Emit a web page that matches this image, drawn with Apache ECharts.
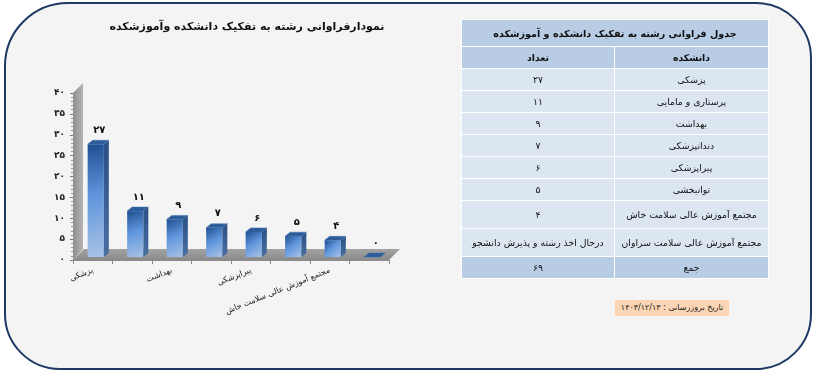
<!DOCTYPE html>
<html lang="fa">
<head>
<meta charset="utf-8">
<script src="https://cdn.jsdelivr.net/npm/echarts@6/dist/echarts.min.js"></script>
<style>
  html, body { margin: 0; padding: 0; background: #ffffff; }
  body { width: 816px; height: 376px; position: relative; overflow: hidden; font-family: "DejaVu Sans", sans-serif; }
  .frame {
    position: absolute; left: 4px; top: 2px; width: 808px; height: 368px;
    box-sizing: border-box; border: 2px solid #1f3864;
    border-radius: 64px 56px 56px 56px; background: #f4f4f4;
  }
  #chart { position: absolute; left: 0; top: 0; width: 816px; height: 376px; }
  table.stats {
    position: absolute; left: 461px; top: 19px; width: 308px;
    border-collapse: collapse; direction: rtl; font-size: 9.3px; color: #111;
  }
  table.stats td { border: 1px solid #ffffff; text-align: center; padding: 0; }
  table.stats tr.cap td { background: #b8cce4; font-weight: bold; font-size: 9.6px; height: 26px; }
  table.stats tr.head td { background: #b8cce4; font-weight: bold; height: 21px; }
  table.stats tr.row td { background: #dce6f1; height: 21px; }
  table.stats tr.row.tall td { height: 27px; }
  table.stats tr.sum td { background: #b8cce4; height: 21px; }
  .stamp {
    position: absolute; left: 615px; top: 300px; width: 114px; height: 16px;
    background: #fcd5b4; direction: rtl; font-size: 8px; line-height: 16px;
    text-align: center; color: #222;
  }
</style>
</head>
<body>
<div class="frame"></div>
<div id="chart"></div>
<table class="stats" id="stats"></table>
<div class="stamp" id="stamp"></div>
<script>
const chartTitle = 'نمودارفراوانی رشته به تفکیک دانشکده وآموزشکده';
const tableTitle = 'جدول فراوانی رشته به تفکیک دانشکده و آموزشکده';
const tableHead = ['دانشکده', 'تعداد'];
const faculties = ['پزشکی', 'پرستاری و مامایی', 'بهداشت', 'دندانپزشکی', 'پیراپزشکی', 'توانبخشی', 'مجتمع آموزش عالی سلامت خاش', 'مجتمع آموزش عالی سلامت سراوان'];
const counts = [27, 11, 9, 7, 6, 5, 4, 0];
const countNotes = ['', '', '', '', '', '', '', 'درحال اخذ رشته و پذیرش دانشجو'];
const totalLabel = 'جمع';
const totalCount = 69;
const updateDate = 'تاریخ بروزرسانی : ۱۴۰۳/۱۲/۱۳';
const yMax = 40;
const yStep = 5;

function fa(n) {
  return String(n).replace(/\d/g, d => '۰۱۲۳۴۵۶۷۸۹'[d]);
}

// table on the right
let rows = '<tr class="cap"><td colspan="2">' + tableTitle + '</td></tr>';
rows += '<tr class="head"><td style="width:153px">' + tableHead[0] + '</td><td>' + tableHead[1] + '</td></tr>';
faculties.forEach((f, i) => {
  const tall = f.length > 20 ? ' tall' : '';
  rows += '<tr class="row' + tall + '"><td>' + f + '</td><td>' + (countNotes[i] || fa(counts[i])) + '</td></tr>';
});
rows += '<tr class="sum"><td>' + totalLabel + '</td><td>' + fa(totalCount) + '</td></tr>';
document.getElementById('stats').innerHTML = rows;
document.getElementById('stamp').textContent = updateDate;

const chart = echarts.init(document.getElementById('chart'));

const frontFill = new echarts.graphic.LinearGradient(0, 0, 1, 1, [
  { offset: 0, color: '#1f4f91' },
  { offset: 0.45, color: '#5f95dc' },
  { offset: 1, color: '#a9c3e6' }
]);
const sideFill = new echarts.graphic.LinearGradient(0, 0, 0, 1, [
  { offset: 0, color: '#2a4f82' },
  { offset: 1, color: '#4a6fa3' }
]);

// floor and back wall of the pseudo 3d plot
function renderFloor(params, api) {
  const cs = params.coordSys;
  const d = 11;
  const xL = cs.x, xR = cs.x + cs.width, yT = cs.y, yB = cs.y + cs.height;
  return {
    type: 'group',
    children: [{
      type: 'polygon',
      shape: { points: [[xL, yB], [xL + d - 1, yB - d], [xL + d - 1, yT - d + 1], [xL, yT]] },
      style: { fill: new echarts.graphic.LinearGradient(0, 0, 1, 0, [
        { offset: 0, color: '#8f8f8f' }, { offset: 1, color: '#b3b3b3' }]) }
    }, {
      type: 'polygon',
      shape: { points: [[xL, yB], [xL + d, yB - d], [xR + d, yB - d], [xR, yB]] },
      style: { fill: new echarts.graphic.LinearGradient(0, 0, 0, 1, [
        { offset: 0, color: '#a3a3a3' }, { offset: 1, color: '#8a8a8a' }]) }
    }]
  };
}

function renderBar(params, api) {
  const idx = api.value(0);
  const val = api.value(1);
  const base = api.coord([idx, 0]);
  const top = api.coord([idx, val]);
  const band = api.size([1, 0])[0];
  const w = band * 0.41;
  const dx = 5, dy = 4;
  const x0 = base[0] - w / 2 + 3;
  const yb = base[1] - 3;
  const yt = top[1] - 3;
  const children = [];
  if (yb - yt > 0.5) {
    children.push({ type: 'rect', shape: { x: x0, y: yt, width: w, height: yb - yt }, style: { fill: frontFill } });
    children.push({
      type: 'polygon',
      shape: { points: [[x0 + w, yb], [x0 + w + dx, yb - dy], [x0 + w + dx, yt - dy], [x0 + w, yt]] },
      style: { fill: sideFill }
    });
  }
  children.push({
    type: 'polygon',
    shape: { points: [[x0, yt], [x0 + dx, yt - dy], [x0 + w + dx, yt - dy], [x0 + w, yt]] },
    style: { fill: '#2d5c9a', stroke: '#3f6fae', lineWidth: 0.5 }
  });
  children.push({
    type: 'text',
    x: x0 + w / 2 + dx / 2 + 1,
    y: yt - dy - 10,
    style: { text: fa(val), align: 'center', verticalAlign: 'middle', fill: '#111', font: 'bold 10px "DejaVu Sans"' }
  });
  return { type: 'group', children };
}

chart.setOption({
  animation: false,
  textStyle: { fontFamily: '"DejaVu Sans", sans-serif' },
  title: {
    text: chartTitle,
    left: 242,
    top: 17,
    textAlign: 'center',
    textStyle: { fontSize: 11, fontWeight: 'bold', color: '#111' }
  },
  grid: { left: 73, top: 93, width: 316, height: 167, containLabel: false },
  xAxis: {
    type: 'category',
    data: faculties,
    boundaryGap: true,
    axisLine: { lineStyle: { color: '#8c8c8c' } },
    axisTick: { show: true, interval: 0, length: 4, lineStyle: { color: '#8c8c8c' } },
    axisLabel: { interval: 1, rotate: 22, margin: 10, fontSize: 8, color: '#222' }
  },
  yAxis: {
    type: 'value',
    min: 0,
    max: yMax,
    interval: yStep,
    splitLine: { show: false },
    axisLine: { show: true, lineStyle: { color: '#8c8c8c' } },
    axisTick: { show: true, length: 3, lineStyle: { color: '#777' } },
    minorTick: { show: true, splitNumber: 5, length: 2, lineStyle: { color: '#999' } },
    axisLabel: { formatter: v => fa(v), fontSize: 9, fontWeight: 'bold', color: '#222', margin: 8 }
  },
  series: [{
    type: 'custom',
    name: 'floor',
    renderItem: renderFloor,
    data: [[0, 0]],
    z: 1,
    silent: true
  }, {
    type: 'custom',
    name: 'bars',
    renderItem: renderBar,
    data: counts.map((v, i) => [i, v]),
    encode: { x: 0, y: 1 },
    z: 3
  }]
});
</script>
</body>
</html>
